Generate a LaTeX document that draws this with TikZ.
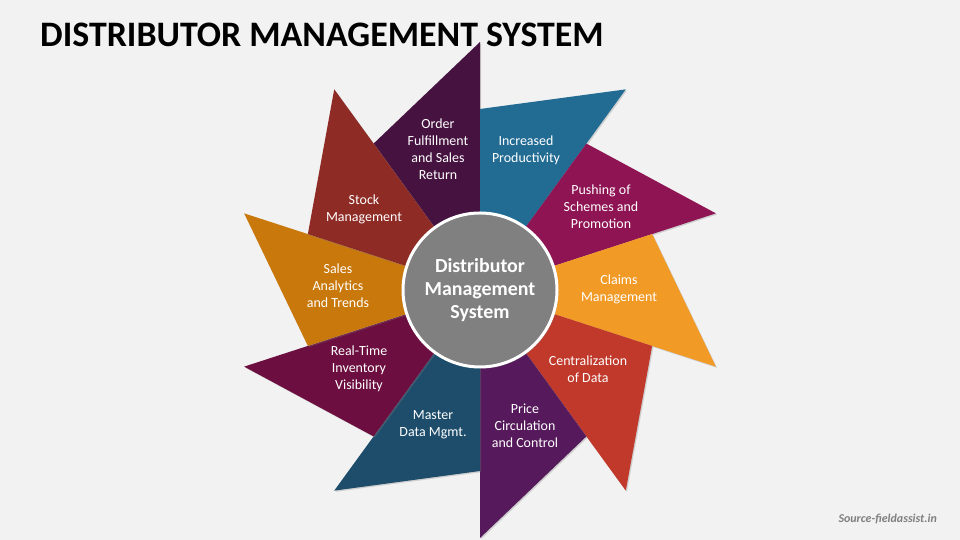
\documentclass[tikz,border=0pt]{standalone}
\usepackage{fontspec}
\setmainfont{Carlito}
\usetikzlibrary{shadows,calc}
\definecolor{bgc}{HTML}{F2F2F2}
\definecolor{cOrder}{HTML}{461341}
\definecolor{cProd}{HTML}{226C94}
\definecolor{cPush}{HTML}{8F1453}
\definecolor{cClaim}{HTML}{F29A26}
\definecolor{cCent}{HTML}{C0392B}
\definecolor{cPrice}{HTML}{561A5C}
\definecolor{cMaster}{HTML}{1E4D6B}
\definecolor{cReal}{HTML}{6C0E3F}
\definecolor{cSales}{HTML}{C9780C}
\definecolor{cStock}{HTML}{8E2B25}
\definecolor{cHub}{HTML}{808080}
\definecolor{cSrc}{HTML}{7F7F7F}
\tikzset{
  blade/.style={drop shadow={opacity=0.3,shadow xshift=1.2bp,shadow yshift=-1.2bp}},
  bladetext/.style={text=white,align=center,inner sep=0pt,font=\fontsize{14}{17}\selectfont},
  hub/.style={circle,minimum size=154bp,fill=cHub,draw=white,line width=3bp,
    text=white,align=center,font=\fontsize{20}{23.5}\selectfont\bfseries,
    drop shadow={opacity=0.35,shadow xshift=1.5bp,shadow yshift=-1.5bp}}
}
\begin{document}
\begin{tikzpicture}[x=1bp,y=1bp]
\fill[bgc] (0,0) rectangle (960,540);
\useasboundingbox (0,0) rectangle (960,540);
\coordinate (c) at (480,250);
\foreach \a/\col in {90/cOrder,54/cProd,18/cPush,-18/cClaim,-54/cCent,-90/cPrice,-126/cMaster,-162/cReal,162/cSales,126/cStock}{
  \fill[\col,blade] (c) -- ($(c)+(\a:248)$) -- ($(c)+(\a+36:181)$) -- cycle;
}
\node[hub] (hub) at (c) {Distributor\\Management\\System};
\node[bladetext] (t1) at (438,391) {Order\\Fulfillment\\and Sales\\Return};
\node[bladetext] (t2) at (526,390) {Increased\\Productivity};
\node[bladetext] (t3) at (601,333) {Pushing of\\Schemes and\\Promotion};
\node[bladetext] (t4) at (619,251) {Claims\\Management};
\node[bladetext] (t5) at (588,171) {Centralization\\of Data};
\node[bladetext] (t6) at (525,114) {Price\\Circulation\\and Control};
\node[bladetext] (t7) at (433,115) {Master\\Data Mgmt.};
\node[bladetext] (t8) at (359,171) {Real-Time\\Inventory\\Visibility};
\node[bladetext] (t9) at (338,254) {Sales\\Analytics\\and Trends};
\node[bladetext] (t10) at (364,331) {Stock\\Management};
\node[anchor=base west,inner sep=0pt,font=\fontsize{36}{40}\selectfont\bfseries] (title) at (40,493) {DISTRIBUTOR MANAGEMENT SYSTEM};
\node[anchor=base east,inner sep=0pt,text=cSrc,font=\fontsize{12}{13}\selectfont\bfseries\itshape] (src) at (937,17) {Source-fieldassist.in};
\end{tikzpicture}
\end{document}
